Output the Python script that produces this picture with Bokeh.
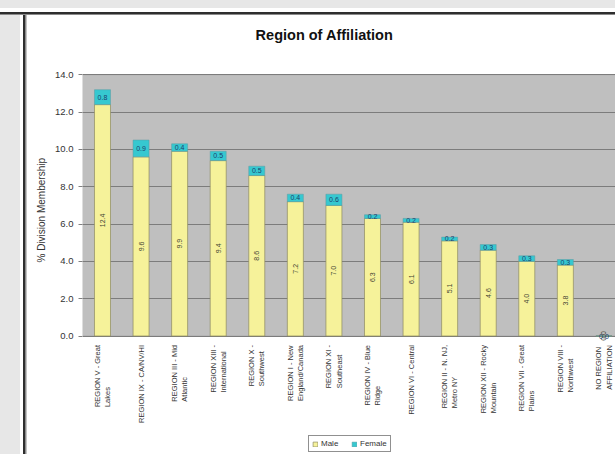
import math
from bokeh.plotting import figure
from bokeh.models import (ColumnDataSource, Range1d, LinearAxis, FixedTicker, LabelSet, Label,
                          Legend, LegendItem, PrintfTickFormatter, Title, BoxAnnotation)
from bokeh.core.properties import value
from bokeh.embed import file_html
from bokeh.resources import INLINE

# ---------------- data ----------------
categories = [
    "REGION V - Great\nLakes",
    "REGION IX - CA/NV/HI",
    "REGION III - Mid\nAtlantic",
    "REGION XIII -\nInternational",
    "REGION X -\nSouthwest",
    "REGION I - New\nEngland/Canada",
    "REGION XI -\nSoutheast",
    "REGION IV - Blue\nRidge",
    "REGION VI - Central",
    "REGION II - N. NJ,\nMetro NY",
    "REGION XII - Rocky\nMountain",
    "REGION VII - Great\nPlains",
    "REGION VIII -\nNorthwest",
    "NO REGION\nAFFILIATION",
]
male = [12.4, 9.6, 9.9, 9.4, 8.6, 7.2, 7.0, 6.3, 6.1, 5.1, 4.6, 4.0, 3.8, 0.0]
female = [0.8, 0.9, 0.4, 0.5, 0.5, 0.4, 0.6, 0.2, 0.2, 0.2, 0.3, 0.3, 0.3, 0.0]
y_ticks = [0, 2, 4, 6, 8, 10, 12, 14]
title_text = "Region of Affiliation"
y_label = "% Division Membership"
series_names = ["Male", "Female"]

# ---------------- styling ----------------
FONT = "Liberation Sans"
YELLOW = "#f6f29a"
CYAN = "#36c8d0"
PLOT_BG = "#bfbfbf"
OUTER = "#e7e7e7"
EDGE = "#2e2e2e"
EDGE2 = "#8a8a8a"

xs = list(range(len(categories)))
src = ColumnDataSource(dict(
    x=xs,
    cat=categories,
    male=male,
    female=female,
    female_top=[m + f for m, f in zip(male, female)],
    male_mid=[m / 2 for m in male],
    female_mid=[m + f / 2 for m, f in zip(male, female)],
    male_txt=[f"{v:.1f}" for v in male],
    female_txt=[f"{v:.1f}" for v in female],
))

# light-gray surround and dark edge of the chart panel (page background of the figure)
panel_bg = (
    f"linear-gradient(to bottom, {OUTER} 0px, {OUTER} 8px, #ffffff 8px, #ffffff 11.7px, {EDGE} 11.7px, "
    f"{EDGE} 13.7px, {EDGE2} 13.7px, {EDGE2} 15px), "
    f"linear-gradient(to right, {OUTER} 0px, {OUTER} 20px, #ffffff 20px, #ffffff 23.5px, {EDGE} 23.5px, "
    f"{EDGE} 25.5px, {EDGE2} 25.5px, {EDGE2} 26.5px)"
)

# The frame covers the whole chart panel to the right of the value axis; the value
# axis shows 0..14, the space above holds the title, below the labels and the legend.
p = figure(width=615, height=454, output_backend="svg", toolbar_location=None,
           x_range=Range1d(-0.518, 13.30), y_range=Range1d(-6.35, 17.98),
           x_axis_location=None, y_axis_location=None,
           min_border_left=82, min_border_right=0, min_border_top=0, min_border_bottom=0,
           styles={"background-image": panel_bg,
                   "background-repeat": "no-repeat, no-repeat",
                   "background-size": "100% 15px, 26.5px 100%",
                   "background-position": "0 0, 0 8px",
                   "background-color": "#ffffff"})
p.background_fill_color = None
p.border_fill_color = None
p.outline_line_color = None

# gray plot area (0 .. 14)
plot_area = BoxAnnotation(bottom=y_ticks[0], top=y_ticks[-1], fill_color=PLOT_BG, fill_alpha=1,
                          line_color="#808080", line_width=1, level="underlay")
p.add_layout(plot_area)

# bars
r_m = p.vbar(x="x", width=0.415, bottom=0, top="male", source=src,
             fill_color=YELLOW, line_color="#8c8a60", line_width=0.7)
r_f = p.vbar(x="x", width=0.415, bottom="male", top="female_top", source=src,
             fill_color=CYAN, line_color="#5a9aa0", line_width=0.5)

# value labels
p.add_layout(LabelSet(x="x", y="male_mid", text="male_txt", source=src, angle=math.pi / 2,
                      text_align="center", text_baseline="middle", text_font=value(FONT),
                      text_font_size="7px", text_color="#444433"))
p.add_layout(LabelSet(x="x", y="female_mid", text="female_txt", source=src,
                      text_align="center", text_baseline="middle", text_font=value(FONT),
                      text_font_size="7px", text_color="#1b3f6e"))

# category labels under the plot area
p.add_layout(LabelSet(x="x", y=0, text="cat", source=src, angle=math.pi / 2, y_offset=-9,
                      text_align="right", text_baseline="middle", text_font=value(FONT),
                      text_font_size="7.5px", text_color="#333333", text_line_height=1.15))

# value axis
yax = LinearAxis(ticker=FixedTicker(ticks=y_ticks), formatter=PrintfTickFormatter(format="%.1f"))
yax.major_label_text_font = FONT
yax.major_label_text_font_size = "9.5px"
yax.major_label_text_color = "#333333"
yax.major_label_standoff = 5
yax.axis_line_color = None
yax.major_tick_line_color = "#808080"
yax.major_tick_out = 4
yax.major_tick_in = 0
yax.minor_tick_line_color = None
p.add_layout(yax, "left")

# value-axis title (kept beside the 0..14 part)
ytitle = Title(text=y_label, align="left", offset=192, standoff=11,
               text_font=FONT, text_font_size="10px", text_font_style="normal",
               text_color="#333333")
p.add_layout(ytitle, "left")

p.xgrid.grid_line_color = None
p.ygrid.ticker = FixedTicker(ticks=y_ticks)
p.ygrid.grid_line_color = "#7c7c7c"
p.ygrid.grid_line_width = 1

# draw the gray area before the grid lines
p.center = [plot_area] + [r for r in p.center if r is not plot_area]

# chart title
p.add_layout(Label(x=5.755, y=16.13, text=title_text, text_align="center", text_baseline="middle",
                   text_font=FONT, text_font_size="14.5px", text_font_style="bold",
                   text_color="#111111"))

# legend at the bottom of the chart panel
leg = Legend(items=[LegendItem(label=series_names[0], renderers=[r_m]),
                    LegendItem(label=series_names[1], renderers=[r_f])],
             orientation="horizontal", location=(226, 2),
             label_text_font=FONT, label_text_font_size="8px", label_text_color="#333333",
             glyph_width=6, glyph_height=6, label_standoff=3, spacing=10, padding=3,
             margin=0, border_line_color="#222222", border_line_width=1,
             background_fill_color="white", background_fill_alpha=1,
             label_height=8)
p.add_layout(leg, "center")

open("out.html", "w").write(file_html(p, INLINE))
